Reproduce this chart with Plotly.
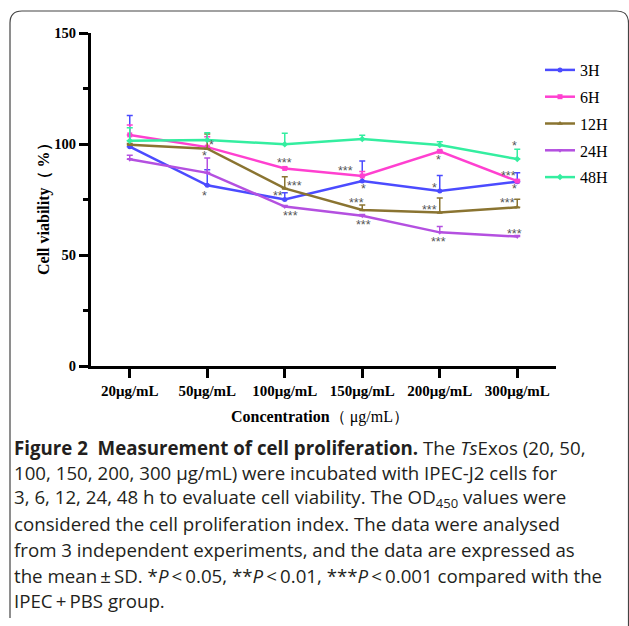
import plotly.graph_objects as go

# ---------------- data ----------------
categories = ["20μg/mL", "50μg/mL", "100μg/mL", "150μg/mL", "200μg/mL", "300μg/mL"]
series_names = ["3H", "6H", "12H", "24H", "48H"]

v_3h = [98.8, 81.4, 75.0, 83.3, 78.8, 83.0]
v_6h = [104.1, 98.6, 89.0, 85.6, 96.7, 83.3]
v_12h = [99.7, 97.9, 80.0, 70.3, 69.1, 71.5]
v_24h = [93.1, 87.0, 71.8, 67.7, 60.2, 58.3]
v_48h = [101.5, 101.8, 99.9, 102.3, 99.5, 93.2]

sd_3h = [14.0, 7.0, 3.0, 9.0, 7.0, 4.0]
sd_6h = [4.5, 4.7, 0.5, 2.0, 0.5, 0.5]
sd_12h = [0.5, 6.6, 5.3, 2.2, 6.6, 3.6]
sd_24h = [1.8, 6.7, 0.5, 0.5, 2.6, 0.5]
sd_48h = [5.8, 3.3, 4.9, 1.6, 1.5, 4.4]

# significance marks: category index (fractional for offset), value level, label
sig_x = [1.06, 0.97, 0.97, 2.00, 2.13, 1.91, 2.07, 2.79, 3.01, 2.92, 3.02,
         3.98, 3.93, 3.87, 3.98, 4.97, 4.89, 4.97, 4.87, 4.96]
sig_y = [100.8, 95.8, 77.8, 92.8, 82.4, 77.8, 69.1, 89.1, 81.1, 74.8, 64.7,
         94.0, 81.5, 71.8, 57.2, 100.3, 87.1, 81.1, 74.8, 60.8]
sig_text = ["*", "*", "*", "***", "***", "**", "***", "***", "*", "***", "***",
            "*", "*", "***", "***", "*", "***", "*", "***", "***"]

y_ticks = [0, 50, 100, 150]

caption_lines = [
    "<b>Figure 2\u00a0\u00a0Measurement of cell proliferation.</b> The <i>Ts</i>Exos (20, 50,",
    "100, 150, 200, 300 μg/mL) were incubated with IPEC-J2 cells for",
    "3, 6, 12, 24, 48 h to evaluate cell viability. The OD<sub>450</sub> values were",
    "considered the cell proliferation index. The data were analysed",
    "from 3 independent experiments, and the data are expressed as",
    "the mean\u2009±\u2009SD. *<i>P</i>\u2009&lt;\u20090.05, **<i>P</i>\u2009&lt;\u20090.01, ***<i>P</i>\u2009&lt;\u20090.001 compared with the",
    "IPEC\u2009+\u2009PBS group.",
]

# ---------------- styling ----------------
values = [v_3h, v_6h, v_12h, v_24h, v_48h]
sds = [sd_3h, sd_6h, sd_12h, sd_24h, sd_48h]
colors = ["#4b4bff", "#ff40d0", "#8a7431", "#b450e0", "#34eea0"]
symbols = ["circle", "square", "triangle-up", "triangle-down", "diamond"]

W, H = 629, 626
L, R, T, B = 91, 73, 33, 260
PW, PH = W - L - R, H - T - B


def px(x):
    return (x - L) / PW


def py(y):
    return (H - B - y) / PH


SERIF = "Times New Roman, Liberation Serif, serif"
SANS = "Open Sans, Noto Sans, sans-serif"

fig = go.Figure()
for name, v, e, c, s in zip(series_names, values, sds, colors, symbols):
    fig.add_trace(go.Scatter(
        x=categories, y=v, name=name, mode="lines+markers",
        line=dict(color=c, width=2.5),
        marker=dict(color=c, size=5, symbol=s),
        error_y=dict(type="data", symmetric=False, array=e,
                     arrayminus=[0] * len(e), color=c, thickness=1.5, width=3),
        legendgroup=name,
    ))

annotations = []
for xi, yi, t in zip(sig_x, sig_y, sig_text):
    annotations.append(dict(x=xi, y=yi, xref="x", yref="y", text=t, showarrow=False,
                            font=dict(family="Liberation Sans, Arial, sans-serif", size=12.5,
                                      color="#555555"),
                            xanchor="center", yanchor="middle", yshift=-3))

# axis titles
annotations.append(dict(x=px(320), y=py(417), xref="paper", yref="paper",
                        text="<b>Concentration</b>（ μg/mL）", showarrow=False,
                        font=dict(family=SERIF, size=16, color="black"),
                        xanchor="center", yanchor="middle"))
annotations.append(dict(x=px(44), y=py(205), xref="paper", yref="paper",
                        text="<b>Cell viability（ %）</b>", showarrow=False, textangle=-90,
                        font=dict(family=SERIF, size=16, color="black"),
                        xanchor="center", yanchor="middle"))

# caption
for i, line in enumerate(caption_lines):
    annotations.append(dict(x=px(12), y=py(447 + 25.6 * i), xref="paper", yref="paper",
                            text=line, showarrow=False, align="left",
                            font=dict(family=SANS, size=18.7, color="#231f20"),
                            xanchor="left", yanchor="middle"))

# rounded frame
x0, x1, y0, y1, r = px(10), px(628.5), py(11), py(630), 12
rx, ry = r / PW, r / PH
frame = (f"M{x0},{y1 + ry} L{x0},{y0 - ry} Q{x0},{y0} {x0 + rx},{y0} "
         f"L{x1 - rx},{y0} Q{x1},{y0} {x1},{y0 - ry} L{x1},{y1}")

fig.update_layout(
    width=W, height=H,
    margin=dict(l=L, r=R, t=T, b=B),
    paper_bgcolor="white", plot_bgcolor="white",
    showlegend=True,
    legend=dict(x=px(540), y=py(53), xanchor="left", yanchor="top",
                font=dict(family=SERIF, size=16, color="black"),
                tracegroupgap=3, itemwidth=30, bgcolor="rgba(0,0,0,0)"),
    xaxis=dict(type="category", range=[-0.5, 5.5], showline=True, linecolor="black",
               linewidth=3, ticks="outside", ticklen=9, tickwidth=3, tickcolor="black",
               showgrid=False, zeroline=False,
               tickfont=dict(family=SERIF, size=15, color="black", weight="bold")),
    yaxis=dict(range=[0, 150], tickvals=y_ticks, showline=True, linecolor="black",
               linewidth=3, ticks="outside", ticklen=9, tickwidth=3, tickcolor="black",
               showgrid=False, zeroline=False,
               minor=dict(dtick=25, ticks="outside", ticklen=5, tickwidth=3, tickcolor="black"),
               tickfont=dict(family=SERIF, size=14.5, color="black", weight="bold")),
    annotations=annotations,
    shapes=[dict(type="path", path=frame, xref="paper", yref="paper",
                 line=dict(color="#444444", width=1.2), layer="below")],
)

fig.write_html("out.html", config={"displayModeBar": False},
               post_script="document.body.style.margin='0px';")
